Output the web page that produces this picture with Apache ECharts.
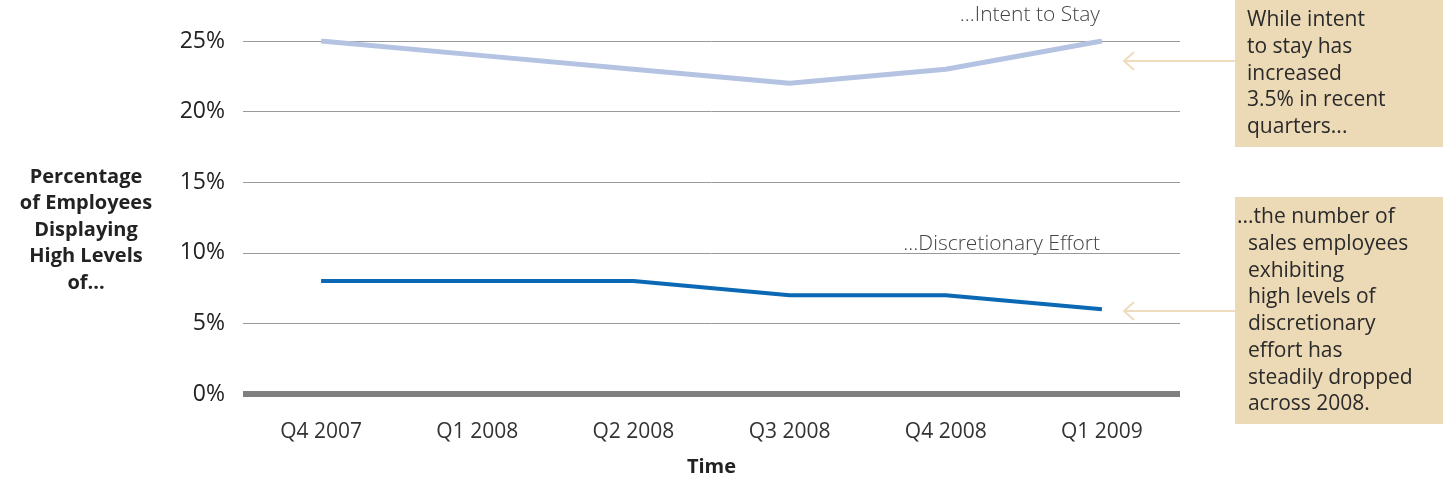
<!DOCTYPE html>
<html>
<head>
<meta charset="utf-8">
<script src="https://cdn.jsdelivr.net/npm/echarts@6/dist/echarts.min.js"></script>
<style>
  html, body { margin: 0; padding: 0; background: #fff; }
  #chart { width: 1443px; height: 482px; }
</style>
</head>
<body>
<div id="chart"></div>
<script>
// categories and values
const quarters = ['Q4 2007', 'Q1 2008', 'Q2 2008', 'Q3 2008', 'Q4 2008', 'Q1 2009'];
const intentToStay = [25, 24, 23, 22, 23, 25];
const discretionaryEffort = [8, 8, 8, 7, 7, 6];
const yTicks = [0, 5, 10, 15, 20, 25];

const font = '"Open Sans", Lato, sans-serif';
const boxFill = '#ecd9b6';
const arrowColor = '#eddcbd';

const chart = echarts.init(document.getElementById('chart'));

chart.setOption({
  animation: false,
  textStyle: { fontFamily: font },
  grid: { left: 243, right: 263, top: 41, bottom: 78 },
  xAxis: {
    type: 'category',
    data: quarters,
    boundaryGap: true,
    axisLine: { show: false },
    axisTick: { show: false },
    axisLabel: { color: '#333', fontSize: 21, margin: 28 },
    name: 'Time',
    nameLocation: 'middle',
    nameGap: 63,
    nameTextStyle: { color: '#222', fontSize: 20, fontWeight: 'bold' }
  },
  yAxis: {
    type: 'value',
    min: yTicks[0],
    max: yTicks[yTicks.length - 1],
    interval: 5,
    axisLine: { show: false },
    axisTick: { show: false },
    axisLabel: { color: '#222', fontSize: 23, margin: 18, formatter: '{value}%' },
    splitLine: { lineStyle: { color: '#9a9a9a', width: 1 } }
  },
  series: [
    {
      name: 'Intent to Stay',
      type: 'line',
      data: intentToStay,
      symbol: 'none',
      lineStyle: { color: '#b5c3e3', width: 5 },
      z: 3
    },
    {
      name: 'Discretionary Effort',
      type: 'line',
      data: discretionaryEffort,
      symbol: 'none',
      lineStyle: { color: '#0a68b4', width: 4 },
      z: 3,
      markLine: {
        silent: true,
        symbol: 'none',
        label: { show: false },
        lineStyle: { color: '#808080', width: 6, type: 'solid' },
        data: [{ yAxis: 0 }]
      }
    }
  ],
  graphic: [
    {
      type: 'text', right: 343, top: 5,
      style: { text: '...Intent to Stay', fill: '#444', font: '300 21px ' + font }
    },
    {
      type: 'text', right: 343, top: 234,
      style: { text: '...Discretionary Effort', fill: '#444', font: '300 21px ' + font }
    },
    {
      type: 'text', x: 86, y: 164,
      style: {
        text: 'Percentage\nof Employees\nDisplaying\nHigh Levels\nof...',
        fill: '#222', font: 'bold 20px ' + font, align: 'center', lineHeight: 26.5
      }
    },
    { type: 'rect', left: 1235, top: 0, shape: { width: 208, height: 147 }, style: { fill: boxFill } },
    { type: 'rect', left: 1235, top: 197, shape: { width: 208, height: 227 }, style: { fill: boxFill } },
    {
      type: 'text', left: 1247, top: 7,
      style: {
        text: 'While intent\nto stay has\nincreased\n3.5% in recent\nquarters...',
        fill: '#2a2a2a', font: '21px ' + font, lineHeight: 26.7
      }
    },
    {
      type: 'text', left: 1237, top: 204,
      style: {
        text: '...the number of\n  sales employees\n  exhibiting\n  high levels of\n  discretionary\n  effort has\n  steadily dropped\n  across 2008.',
        fill: '#2a2a2a', font: '21px ' + font, lineHeight: 26.7
      }
    },
    {
      type: 'polyline', silent: true,
      shape: { points: [[1235, 61], [1124, 61]] },
      style: { stroke: arrowColor, lineWidth: 2 }
    },
    {
      type: 'polyline', silent: true,
      shape: { points: [[1134, 52], [1124, 61], [1134, 70]] },
      style: { stroke: arrowColor, lineWidth: 2, fill: null }
    },
    {
      type: 'polyline', silent: true,
      shape: { points: [[1235, 311], [1124, 311]] },
      style: { stroke: arrowColor, lineWidth: 2 }
    },
    {
      type: 'polyline', silent: true,
      shape: { points: [[1134, 302], [1124, 311], [1134, 320]] },
      style: { stroke: arrowColor, lineWidth: 2, fill: null }
    }
  ]
});
</script>
</body>
</html>
